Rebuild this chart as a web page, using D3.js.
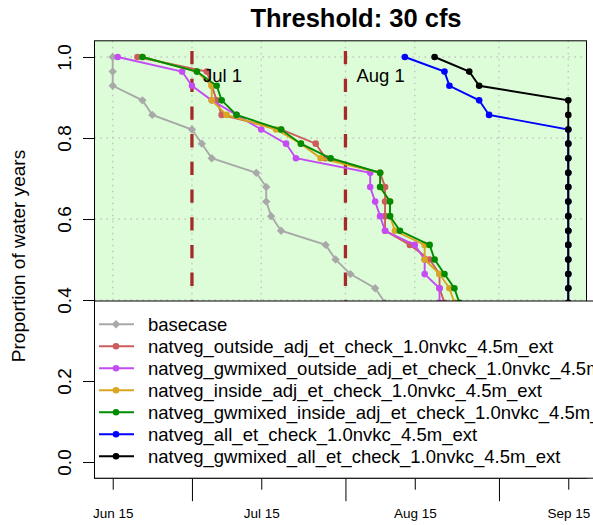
<!DOCTYPE html>
<html>
<head>
<meta charset="utf-8">
<script src="https://cdn.jsdelivr.net/npm/d3@7"></script>
<style>
  html, body { margin: 0; padding: 0; background: #ffffff; }
  svg { display: block; font-family: "Liberation Sans", Arial, Helvetica, sans-serif; }
</style>
</head>
<body>
<svg id="chart" width="593" height="525"></svg>
<script>
// ---------------- DATA ----------------
const seriesNames = [
  "basecase",
  "natveg_outside_adj_et_check_1.0nvkc_4.5m_ext",
  "natveg_gwmixed_outside_adj_et_check_1.0nvkc_4.5m_ext",
  "natveg_inside_adj_et_check_1.0nvkc_4.5m_ext",
  "natveg_gwmixed_inside_adj_et_check_1.0nvkc_4.5m_ext",
  "natveg_all_et_check_1.0nvkc_4.5m_ext",
  "natveg_gwmixed_all_et_check_1.0nvkc_4.5m_ext"
];
const seriesColors = ["#A9A9A9", "#CD5C5C", "#C54CF5", "#DAA520", "#008B00", "#0000FF", "#000000"];

// proportion of water years (exceedance), shared by all series
const proportions = [1.000, 0.964, 0.929, 0.893, 0.857, 0.821, 0.786, 0.750, 0.714,
                     0.679, 0.643, 0.607, 0.571, 0.536, 0.500, 0.464, 0.429, 0.393];

// dates (month-day) at which each proportion is reached
const basecaseDates = ["06-15","06-15","06-15","06-21","06-23","07-01","07-03","07-05","07-14",
                       "07-16","07-16","07-17","07-19","07-28","07-30","08-02","08-07","08-09"];
const outsideDates  = ["06-20","07-04","07-05","07-06","07-07","07-19","07-26","07-28","08-08",
                       "08-09","08-09","08-09","08-09","08-14","08-18","08-20","08-20","08-21"];
const gwOutsideDates= ["06-16","06-29","07-01","07-05","07-10","07-15","07-20","07-22","08-06",
                       "08-06","08-07","08-08","08-09","08-15","08-17","08-17","08-20","08-20"];
const insideDates   = ["06-21","07-02","07-05","07-05","07-08","07-18","07-23","07-27","08-08",
                       "08-08","08-10","08-10","08-11","08-17","08-17","08-20","08-22","08-23"];
const gwInsideDates = ["06-21","07-02","07-06","07-07","07-10","07-19","07-23","07-29","08-08",
                       "08-08","08-10","08-10","08-12","08-18","08-19","08-21","08-23","08-24"];
const allDates      = ["08-13","08-21","08-22","08-28","08-30","09-15","09-15","09-15","09-15",
                       "09-15","09-15","09-15","09-15","09-15","09-15","09-15","09-15","09-15"];
const gwAllDates    = ["08-19","08-26","08-28","09-15","09-15","09-15","09-15","09-15","09-15",
                       "09-15","09-15","09-15","09-15","09-15","09-15","09-15","09-15","09-15"];

const xTickLabels = ["Jun 15", "Jul 15", "Aug 15", "Sep 15"];
const xLabelDates = ["06-15", "07-15", "08-15", "09-15"];
const xMonthDates = ["07-01", "08-01", "09-01"];
const yTicks = [0.0, 0.2, 0.4, 0.6, 0.8, 1.0];
const markerDates = ["07-01", "08-01"];
const markerLabels = ["Jul 1", "Aug 1"];
const titleText = "Threshold: 30 cfs";
const yTitle = "Proportion of water years";

// ---------------- SETUP ----------------
const YEAR = 2001;
const parse = s => d3.timeParse("%Y-%m-%d")(YEAR + "-" + s);
const allSeriesDates = [basecaseDates, outsideDates, gwOutsideDates, insideDates, gwInsideDates, allDates, gwAllDates];
const series = seriesNames.map((name, i) => ({
  name, color: seriesColors[i], shape: i === 0 ? "diamond" : "circle",
  values: allSeriesDates[i].map((d, j) => ({ date: parse(d), p: proportions[j] }))
}));

const plot = { left: 94.5, right: 586.5, top: 40.8, bottom: 478.2 };
const dMin = parse("06-15"), dMax = parse("09-15");
const span = dMax - dMin;
const x = d3.scaleTime()
  .domain([new Date(+dMin - 0.04 * span), new Date(+dMax + 0.04 * span)])
  .range([plot.left, plot.right]);
const y = d3.scaleLinear().domain([-0.04, 1.04]).range([plot.bottom, plot.top]);

const svg = d3.select("#chart");

svg.append("defs").append("clipPath").attr("id", "plotclip")
  .append("rect").attr("x", plot.left).attr("y", plot.top)
  .attr("width", plot.right - plot.left).attr("height", plot.bottom - plot.top);

// background
svg.append("rect").attr("x", plot.left).attr("y", plot.top)
  .attr("width", plot.right - plot.left).attr("height", plot.bottom - plot.top)
  .attr("fill", "#DCFDD8");

// grid
const gridX = xLabelDates.concat(xMonthDates).map(parse);
const grid = svg.append("g").attr("stroke", "#C4C4C4").attr("stroke-width", 1.4)
  .attr("stroke-dasharray", "1.5,4.5").attr("clip-path", "url(#plotclip)");
grid.selectAll("line.gx").data(gridX).enter().append("line")
  .attr("x1", d => x(d)).attr("x2", d => x(d)).attr("y1", plot.top).attr("y2", plot.bottom);
grid.selectAll("line.gy").data(yTicks).enter().append("line")
  .attr("y1", d => y(d)).attr("y2", d => y(d)).attr("x1", plot.left).attr("x2", plot.right);

// vertical dashed brown markers
svg.append("g").selectAll("line").data(markerDates.map(parse)).enter().append("line")
  .attr("x1", d => x(d)).attr("x2", d => x(d)).attr("y1", plot.top).attr("y2", plot.bottom)
  .attr("stroke", "#A52A2A").attr("stroke-width", 3.3)
  .attr("stroke-dasharray", "13.3,14.4").attr("stroke-dashoffset", 17.5);

// series
const line = d3.line().x(d => x(d.date)).y(d => y(d.p));
const diamond = (cx, cy, r) => `M${cx},${cy - r}L${cx + r},${cy}L${cx},${cy + r}L${cx - r},${cy}Z`;
const gData = svg.append("g").attr("clip-path", "url(#plotclip)");
series.forEach(s => {
  const g = gData.append("g");
  g.append("path").datum(s.values).attr("d", line).attr("fill", "none")
    .attr("stroke", s.color).attr("stroke-width", 1.9);
  if (s.shape === "circle") {
    g.selectAll("circle").data(s.values).enter().append("circle")
      .attr("cx", d => x(d.date)).attr("cy", d => y(d.p)).attr("r", 3.3).attr("fill", s.color);
  } else {
    g.selectAll("path.m").data(s.values).enter().append("path")
      .attr("d", d => diamond(x(d.date), y(d.p), 4.2)).attr("fill", s.color);
  }
});

// marker labels
svg.append("g").selectAll("text").data(markerDates).enter().append("text")
  .attr("x", d => x(parse(d)) + 11).attr("y", 81.5)
  .attr("font-size", 18.5).attr("fill", "#000").text((d, i) => markerLabels[i]);

// plot frame
svg.append("rect").attr("x", plot.left).attr("y", plot.top)
  .attr("width", plot.right - plot.left).attr("height", plot.bottom - plot.top)
  .attr("fill", "none").attr("stroke", "#000").attr("stroke-width", 1);

// x axis: short ticks with labels at 15th, long unlabeled ticks at month starts
const xAxisShort = d3.axisBottom(x).tickValues(xLabelDates.map(parse))
  .tickFormat((d, i) => xTickLabels[i]).tickSize(11.5).tickPadding(26);
const gx = svg.append("g").attr("transform", `translate(0,${plot.bottom})`).call(xAxisShort);
gx.select(".domain").remove();
gx.selectAll("line").attr("stroke", "#000").attr("stroke-width", 1);
gx.selectAll("text").attr("font-size", 13.5).attr("fill", "#000")
  .attr("font-family", "Liberation Sans, Arial, sans-serif").attr("dy", 0).attr("y", 40);
const xAxisLong = d3.axisBottom(x).tickValues(xMonthDates.map(parse)).tickFormat("").tickSize(23);
const gx2 = svg.append("g").attr("transform", `translate(0,${plot.bottom})`).call(xAxisLong);
gx2.select(".domain").remove();
gx2.selectAll("line").attr("stroke", "#000").attr("stroke-width", 1);

// y axis
const yAxis = d3.axisLeft(y).tickValues(yTicks).tickFormat(d3.format(".1f")).tickSize(11.5);
const gy = svg.append("g").attr("transform", `translate(${plot.left},0)`).call(yAxis);
gy.select(".domain").attr("d", `M0,${y(0)}V${y(1)}`).attr("stroke", "#000");
gy.selectAll("line").attr("stroke", "#000");
gy.selectAll(".tick text").attr("font-size", 19).attr("fill", "#000")
  .attr("font-family", "Liberation Sans, Arial, sans-serif")
  .attr("x", 0).attr("dy", 0).attr("text-anchor", "middle")
  .attr("transform", `translate(${70.5 - plot.left},0) rotate(-90)`);

// titles
svg.append("text").attr("x", 356).attr("y", 27).attr("text-anchor", "middle")
  .attr("font-size", 25.5).attr("font-weight", "bold").attr("fill", "#000").text(titleText);
svg.append("text").attr("transform", `translate(24.5,256) rotate(-90)`)
  .attr("text-anchor", "middle").attr("font-size", 19).attr("fill", "#000").text(yTitle);

// legend
const leg = { left: plot.left, top: 301, bottom: plot.bottom, row0: 324.3, rowH: 22 };
const gl = svg.append("g");
gl.append("rect").attr("x", leg.left).attr("y", leg.top).attr("width", 700)
  .attr("height", leg.bottom - leg.top).attr("fill", "#fff").attr("stroke", "#000").attr("stroke-width", 1);
series.forEach((s, i) => {
  const cy = leg.row0 + i * leg.rowH;
  gl.append("line").attr("x1", 99).attr("x2", 134).attr("y1", cy).attr("y2", cy)
    .attr("stroke", s.color).attr("stroke-width", 1.9);
  if (s.shape === "circle") {
    gl.append("circle").attr("cx", 116).attr("cy", cy).attr("r", 3.3).attr("fill", s.color);
  } else {
    gl.append("path").attr("d", diamond(116, cy, 4.2)).attr("fill", s.color);
  }
  gl.append("text").attr("x", 148).attr("y", cy + 6.6).attr("font-size", 18.5)
    .attr("fill", "#000").text(s.name);
});
</script>
</body>
</html>
